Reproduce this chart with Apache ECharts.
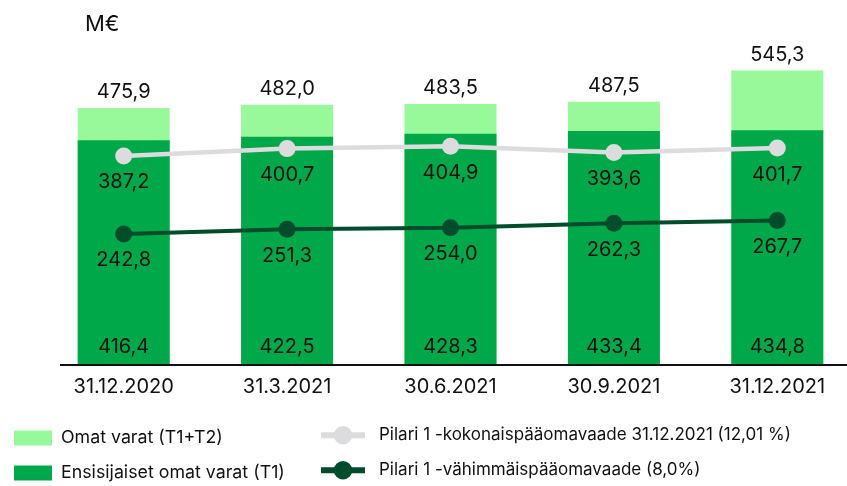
<!DOCTYPE html>
<html>
<head>
<meta charset="utf-8">
<script src="https://cdn.jsdelivr.net/npm/echarts@6/dist/echarts.min.js"></script>
<style>
  html, body { margin: 0; padding: 0; background: #fff; }
  #chart { width: 847px; height: 486px; }
</style>
</head>
<body>
<div id="chart"></div>
<script>
// ========================================
// DATA
// ========================================
var categories = ['31.12.2020', '31.3.2021', '30.6.2021', '30.9.2021', '31.12.2021'];
var totalCapital = [475.9, 482.0, 483.5, 487.5, 545.3];   // Omat varat (T1+T2)
var tier1Capital = [416.4, 422.5, 428.3, 433.4, 434.8];   // Ensisijaiset omat varat (T1)
var totalRequirement = [387.2, 400.7, 404.9, 393.6, 401.7]; // Pilari 1 kokonaisvaade
var minRequirement = [242.8, 251.3, 254.0, 262.3, 267.7];   // Pilari 1 vähimmäisvaade

var seriesNames = [
  'Omat varat (T1+T2)',
  'Ensisijaiset omat varat (T1)',
  'Pilari 1 -kokonaispääomavaade 31.12.2021 (12,01 %)',
  'Pilari 1 -vähimmäispääomavaade (8,0%)'
];

var FONT = 'Inter, "Noto Sans", sans-serif';
var TEXT = '#111111';

function fmt(p) {
  return p.value.toFixed(1).replace('.', ',');
}

// one legend box per item so each can sit where the reference puts it
function legendItem(id, name, left, top, w, h, icon, pad, size) {
  var l = {
    id: id,
    show: true,
    orient: 'horizontal',
    left: left,
    top: top,
    padding: 0,
    itemWidth: w,
    itemHeight: h,
    textStyle: { fontSize: size, color: TEXT, fontFamily: FONT, padding: [0, 0, 0, pad] },
    data: [name]
  };
  if (icon) l.icon = icon;
  else l.lineStyle = { width: 6 };
  return l;
}

var chart = echarts.init(document.getElementById('chart'));

chart.setOption({
  animation: false,
  textStyle: { fontFamily: FONT },
  title: {
    text: 'M€',
    left: 80,
    top: 8,
    textStyle: { fontFamily: FONT, fontSize: 22, fontWeight: 'normal', color: TEXT }
  },
  grid: { left: 42, right: -12, top: 41, bottom: 121, outerBoundsMode: 'none' },
  xAxis: {
    type: 'category',
    data: categories,
    axisLine: { show: false },
    axisTick: { show: false },
    axisLabel: { color: TEXT, fontSize: 20, margin: 12, fontFamily: FONT }
  },
  yAxis: {
    type: 'value',
    min: 0,
    max: 600,
    show: false,
    splitLine: { show: false }
  },
  legend: [
    legendItem('l0', seriesNames[0], 14, 429, 38, 15, 'rect', 4, 17.8),
    legendItem('l1', seriesNames[1], 14, 464, 38, 15, 'rect', 4, 17.8),
    legendItem('l2', seriesNames[2], 318, 426, 44, 23, null, 9, 17),
    legendItem('l3', seriesNames[3], 318, 461, 44, 23, null, 9, 17)
  ],
  graphic: [{
    type: 'line',
    shape: { x1: 60, y1: 365, x2: 847, y2: 365 },
    style: { stroke: '#111111', lineWidth: 2 },
    z: 10
  }],
  series: [{
    name: seriesNames[0],
    type: 'bar',
    data: totalCapital,
    barWidth: 92,
    itemStyle: { color: '#98f99a' },
    label: {
      show: true, position: 'top', distance: 6,
      color: TEXT, fontSize: 20, fontFamily: FONT, formatter: fmt
    },
    z: 1
  }, {
    name: seriesNames[1],
    type: 'bar',
    data: tier1Capital,
    barWidth: 92,
    barGap: '-100%',
    itemStyle: { color: '#00a84a' },
    label: {
      show: true, position: 'insideBottom', distance: 8,
      color: TEXT, fontSize: 20, fontFamily: FONT, formatter: fmt
    },
    z: 2
  }, {
    name: seriesNames[2],
    type: 'line',
    data: totalRequirement,
    symbol: 'circle',
    symbolSize: 17,
    lineStyle: { color: '#dcdcde', width: 4.5 },
    itemStyle: { color: '#dcdcde' },
    label: {
      show: true, position: 'bottom', distance: 8,
      color: TEXT, fontSize: 20, fontFamily: FONT, formatter: fmt
    },
    z: 5
  }, {
    name: seriesNames[3],
    type: 'line',
    data: minRequirement,
    symbol: 'circle',
    symbolSize: 17,
    lineStyle: { color: '#014d2b', width: 4 },
    itemStyle: { color: '#014d2b' },
    label: {
      show: true, position: 'bottom', distance: 8,
      color: TEXT, fontSize: 20, fontFamily: FONT, formatter: fmt
    },
    z: 5
  }]
});
</script>
</body>
</html>
